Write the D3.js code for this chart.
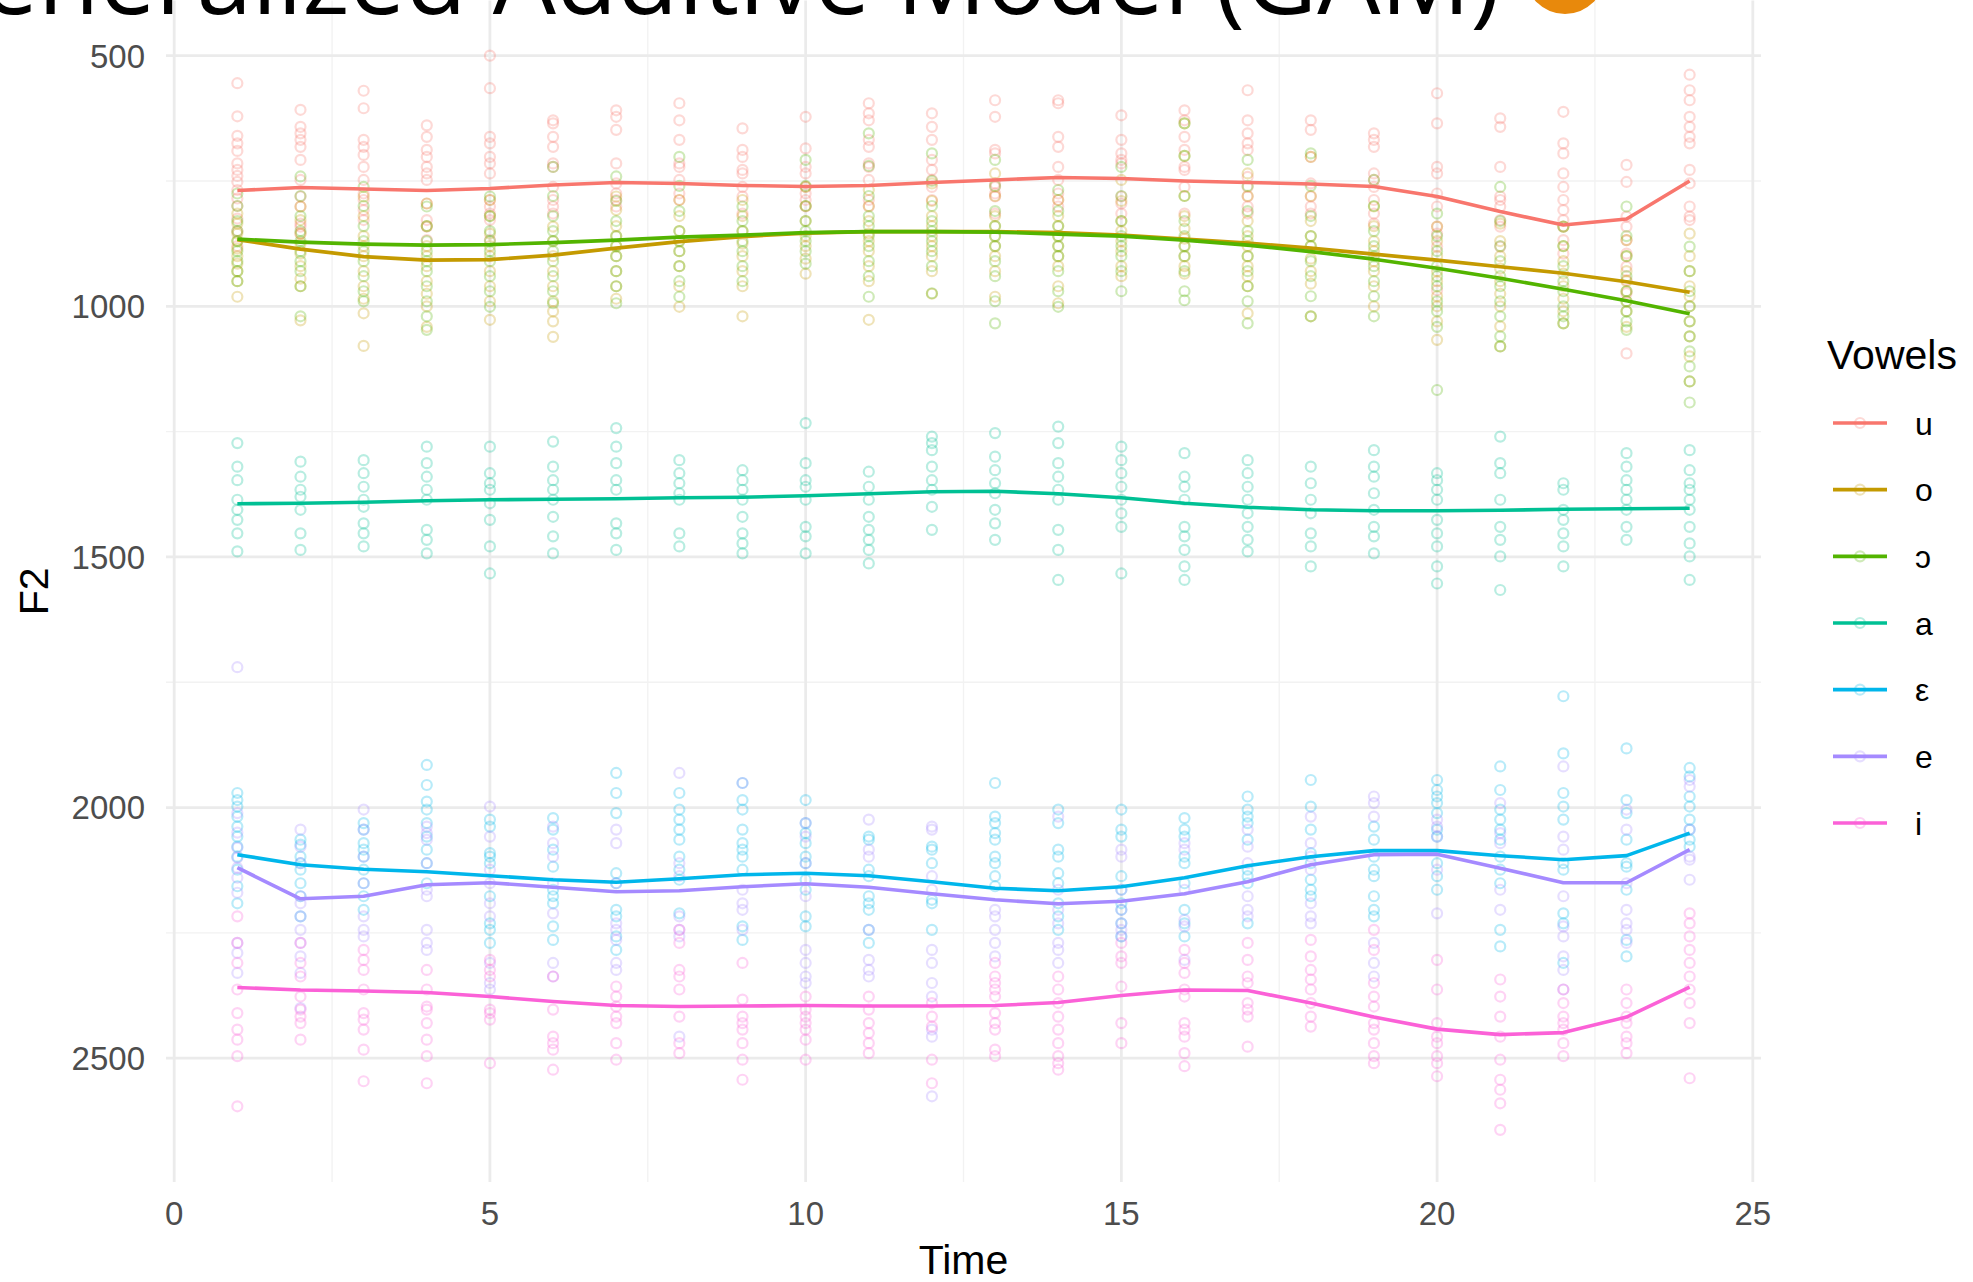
<!DOCTYPE html>
<html>
<head>
<meta charset="utf-8">
<script src="https://cdn.jsdelivr.net/npm/d3@7"></script>
<style>
  html, body { margin: 0; padding: 0; background: #ffffff; overflow: hidden; }
  svg { display: block; }
</style>
</head>
<body>
<svg id="chart" width="1973" height="1282"></svg>
<script>
// Vowel categories and their hue palette
const vowels = ["u", "o", "ɔ", "a", "ε", "e", "i"];
const vowelColors = ["#F8766D", "#C49A00", "#53B400", "#00C094", "#00B6EB", "#A58AFF", "#FB61D7"];

// Measurement time steps
const timeSteps = [1,2,3,4,5,6,7,8,9,10,11,12,13,14,15,16,17,18,19,20,21,22,23,24];

// Axis ticks
const xTicks = [0, 5, 10, 15, 20, 25];
const xMinor = [2.5, 7.5, 12.5, 17.5, 22.5];
const yTicks = [500, 1000, 1500, 2000, 2500];
const yMinor = [750, 1250, 1750, 2250];

// GAM fitted F2 per time step
const fitU    = [769,763,766,769,765,758,753,755,759,761,759,753,748,743,745,750,753,756,761,781,811,838,826,750];
const fitO    = [867,886,901,908,907,898,884,871,861,854,851,851,851,853,858,866,874,884,896,908,921,934,951,972];
const fitOpen = [866,872,876,878,877,873,868,862,858,853,851,851,852,856,860,868,878,891,906,924,944,966,989,1015];
const fitA    = [1394,1393,1391,1388,1386,1385,1384,1382,1381,1378,1374,1370,1369,1374,1382,1393,1401,1406,1408,1408,1407,1405,1404,1403];
const fitEps  = [2094,2114,2123,2128,2136,2144,2149,2142,2134,2131,2136,2148,2161,2166,2158,2140,2116,2098,2086,2086,2096,2104,2096,2051];
const fitE    = [2120,2182,2177,2154,2150,2159,2168,2166,2158,2152,2159,2172,2184,2192,2187,2172,2148,2114,2094,2093,2121,2150,2150,2084];
const fitI    = [2359,2364,2366,2369,2377,2387,2395,2397,2396,2395,2396,2396,2395,2389,2375,2364,2365,2390,2418,2442,2453,2449,2418,2358];

// Raw F2 observations, one list per time step
const obsU = [
  [555,621,660,675,690,715,728,740,752,768,785,800,825,850,880],
  [608,642,655,668,682,708,748,781,801,835,841,855],
  [570,605,668,682,698,722,748,775,788,808,828],
  [639,662,688,702,722,735,748,795,828,841,868],
  [500,565,662,675,702,715,735,788,801,815,828,868],
  [629,635,662,682,715,722,762,788,801,815],
  [609,622,648,715,755,775,788,801],
  [595,629,668,715,722,748,775,788],
  [645,688,702,728,735,762,781,815],
  [622,685,722,735,762,775,788,801],
  [595,615,629,668,682,715,722,748,788,801],
  [615,642,668,708,728,748,762,788],
  [589,622,688,695,755,762,775,781,815],
  [589,595,662,682,722,748,775,788,801],
  [619,668,695,708,715,781,795,815],
  [609,629,662,688,722,728,762,815],
  [569,629,655,675,688,742,762,781,801,815],
  [629,648,702,755,781,801,815],
  [655,668,682,735,748,762,788,815,835],
  [575,635,722,735,775,801,841,855,881,968],
  [625,642,722,781,788,801,828,841,881],
  [612,675,695,735,762,788,808,828,841,868,895],
  [718,752,821,841,868,895,921,948,974,1094],
  [538,569,589,622,642,662,675,728,755,801,821,828]
];
const obsO = [
  [815,835,855,870,885,900,915,930,950,981],
  [801,828,855,875,895,920,945,960,1028],
  [781,820,860,880,900,930,960,985,1014,1079],
  [795,840,880,900,920,950,975,1000,1041],
  [788,820,855,880,900,930,960,990,1027],
  [841,870,900,930,960,990,1010,1030,1061],
  [781,808,840,860,880,900,930,960,985],
  [788,820,850,870,890,920,960,1001],
  [788,820,850,875,900,930,960,1020],
  [762,800,830,860,880,905,935],
  [768,800,830,855,870,890,920,950,1027],
  [755,790,820,840,860,880,900,930,975],
  [735,780,820,840,860,880,900,930,981],
  [788,820,840,860,880,900,920,960,994],
  [748,790,830,850,870,890,920,940],
  [635,700,780,820,845,865,880,900,920,935],
  [735,780,830,860,880,900,920,940,960,1014],
  [702,780,830,860,880,905,930,955,1020],
  [801,840,870,890,910,930,960,1000],
  [841,870,900,930,950,980,1000,1030,1067],
  [835,870,900,925,950,975,1000,1040,1080],
  [841,880,910,935,960,985,1010,1034],
  [868,900,930,950,970,990,1010,1041],
  [855,900,930,960,980,1000,1030,1060,1100,1150]
];
const obsOpen = [
  [775,800,830,850,870,890,910,930,950],
  [741,780,820,850,870,890,910,930,960,1020],
  [762,800,840,870,890,910,940,970,990],
  [801,840,870,890,910,930,960,990,1020,1047],
  [781,820,850,870,890,910,940,970,1001],
  [722,780,820,850,870,890,910,940,970,994],
  [741,790,830,860,880,900,930,960,994],
  [702,760,810,850,870,890,920,950,981],
  [801,830,850,870,890,920,950],
  [708,760,800,830,850,870,890,915],
  [655,720,780,820,840,860,880,910,940,981],
  [695,750,800,830,850,870,890,920,974],
  [708,760,810,840,860,880,910,940,990,1034],
  [768,810,840,860,880,900,930,970,1001],
  [722,780,830,860,880,900,930,970],
  [635,700,780,830,860,880,900,930,970,988],
  [708,760,810,850,870,900,930,960,990,1034],
  [695,760,820,860,880,910,940,980,1020],
  [748,800,850,880,900,920,950,980,1020],
  [815,860,890,920,940,960,990,1010,1041,1167],
  [762,830,880,910,940,960,990,1020,1060,1080],
  [841,880,920,950,970,1000,1020,1034],
  [801,860,900,940,970,990,1010,1030,1047],
  [881,930,970,1000,1030,1060,1090,1120,1150,1192]
];
const obsA = [
  [1273,1320,1347,1386,1406,1426,1453,1489],
  [1310,1340,1366,1380,1406,1453,1486],
  [1307,1333,1360,1386,1400,1433,1453,1479],
  [1280,1313,1340,1366,1386,1446,1466,1493],
  [1280,1333,1353,1366,1393,1426,1479,1533],
  [1270,1320,1347,1366,1386,1420,1459,1493],
  [1243,1280,1313,1347,1366,1433,1453,1486],
  [1307,1333,1353,1373,1386,1453,1479],
  [1327,1347,1366,1386,1420,1453,1473,1493],
  [1233,1313,1347,1360,1386,1440,1459,1493],
  [1330,1360,1386,1420,1446,1466,1486,1513],
  [1260,1273,1287,1320,1347,1366,1400,1446],
  [1253,1300,1327,1353,1373,1406,1433,1466],
  [1240,1273,1313,1340,1366,1386,1446,1486,1546],
  [1280,1307,1333,1360,1386,1413,1440,1533],
  [1293,1340,1360,1386,1440,1459,1486,1519,1546],
  [1307,1333,1360,1386,1413,1440,1466,1489],
  [1320,1353,1386,1413,1453,1479,1519],
  [1287,1320,1340,1373,1406,1440,1459,1493],
  [1333,1347,1366,1386,1426,1453,1479,1519,1553],
  [1260,1313,1333,1386,1440,1466,1499,1566],
  [1353,1366,1406,1426,1453,1479,1519],
  [1293,1320,1347,1366,1386,1406,1440,1466],
  [1287,1327,1353,1366,1386,1406,1440,1473,1499,1546]
];
const obsEps = [
  [1971,1985,1998,2018,2038,2058,2078,2098,2124,2157,2191],
  [2064,2074,2098,2111,2124,2151,2177,2217],
  [2031,2044,2071,2084,2098,2124,2151,2177,2204],
  [1915,1955,1988,2004,2031,2058,2084,2111,2151],
  [2024,2038,2091,2098,2111,2177,2231,2244,2270],
  [2021,2044,2084,2118,2164,2177,2191,2237,2264],
  [1931,1971,2011,2131,2151,2204,2217,2257,2284],
  [1971,2004,2024,2044,2064,2098,2124,2144,2211],
  [1951,1985,2004,2044,2071,2084,2098,2124,2237,2264],
  [1985,2031,2051,2071,2098,2111,2144,2164,2217,2237],
  [2058,2064,2124,2137,2177,2191,2204,2244,2270],
  [2078,2084,2111,2184,2191,2244],
  [1951,2018,2031,2051,2064,2098,2111,2137,2157],
  [2004,2031,2084,2098,2131,2151,2191,2217,2244],
  [2004,2044,2058,2137,2164,2191,2204,2231,2257],
  [2021,2044,2058,2098,2111,2151,2204,2231,2257],
  [1978,2004,2018,2031,2064,2124,2137,2151,2231],
  [1945,1998,2044,2091,2111,2144,2164,2177],
  [2038,2064,2098,2124,2137,2177,2204,2217],
  [1945,1965,1978,1991,2011,2044,2058,2111,2137,2164],
  [1918,1965,2004,2024,2044,2064,2098,2124,2151,2244,2277],
  [1778,1892,1971,1998,2024,2111,2124,2211,2231,2310],
  [1882,1985,2011,2064,2111,2118,2164,2264,2297],
  [1921,1938,1978,1998,2024,2044,2064,2078]
];
const obsE = [
  [1720,2011,2050,2080,2100,2120,2140,2170,2270,2290,2330],
  [2044,2078,2111,2177,2191,2217,2244,2270,2297,2330,2400],
  [2004,2044,2098,2151,2217,2244,2257],
  [2038,2051,2064,2111,2164,2177,2244,2270,2284],
  [1998,2058,2124,2151,2191,2217,2310,2350,2363],
  [2038,2071,2098,2151,2211,2310,2337],
  [2044,2071,2151,2231,2244,2264,2310,2324],
  [1931,2111,2137,2217,2244,2257,2457],
  [1951,2164,2191,2204,2244],
  [2031,2058,2111,2177,2284,2310,2337,2350],
  [2024,2084,2098,2244,2304,2324,2337],
  [2038,2044,2137,2164,2284,2310,2350,2377,2443,2457,2576],
  [2204,2217,2244,2270,2297],
  [2018,2164,2204,2231,2270,2284,2310],
  [2084,2098,2164,2204,2231,2244,2257],
  [2071,2084,2164,2224,2237,2304],
  [2044,2078,2111,2177,2204,2217],
  [2018,2071,2098,2124,2191,2217,2231],
  [1978,1991,2018,2270,2310,2337],
  [2024,2038,2058,2124,2211],
  [1991,2051,2071,2164,2204],
  [1918,2058,2084,2177,2237,2257,2297,2324,2363],
  [2004,2044,2151,2204,2231,2244,2270],
  [1945,1958,2044,2098,2104,2144]
];
const obsI = [
  [2217,2270,2310,2363,2410,2443,2463,2496,2596],
  [2270,2310,2337,2377,2403,2417,2430,2463],
  [2284,2304,2324,2363,2410,2423,2443,2483,2546],
  [2324,2363,2397,2403,2430,2463,2496,2550],
  [2304,2324,2337,2403,2410,2423,2510],
  [2337,2403,2457,2470,2483,2523],
  [2357,2377,2397,2417,2430,2470,2503],
  [2244,2270,2324,2337,2363,2417,2470,2490],
  [2310,2383,2417,2430,2443,2470,2503,2543],
  [2377,2403,2417,2430,2443,2463,2503],
  [2377,2403,2430,2450,2470,2490],
  [2390,2417,2437,2503,2550],
  [2310,2337,2350,2363,2377,2410,2430,2443,2483,2496],
  [2337,2363,2390,2417,2443,2470,2496,2510,2523],
  [2270,2297,2310,2357,2430,2470],
  [2284,2310,2330,2363,2377,2430,2443,2457,2490,2516],
  [2270,2304,2337,2350,2390,2403,2417,2477],
  [2264,2297,2324,2343,2363,2390,2417,2437],
  [2244,2284,2350,2377,2397,2430,2443,2470,2496,2510],
  [2304,2363,2430,2457,2470,2496,2510,2536],
  [2343,2377,2417,2457,2503,2543,2563,2590,2643],
  [2363,2390,2417,2430,2443,2470,2496],
  [2363,2390,2417,2430,2457,2470,2490],
  [2211,2231,2257,2284,2310,2337,2363,2390,2430,2540]
];

const fits = [fitU, fitO, fitOpen, fitA, fitEps, fitE, fitI];
const observations = [obsU, obsO, obsOpen, obsA, obsEps, obsE, obsI];

// ---- layout ----
const svg = d3.select("#chart");
const W = 1973, H = 1282;
const panel = { left: 166, right: 1761, top: 0.5, bottom: 1182 };

const x = d3.scaleLinear().domain([-0.13, 25.13]).range([panel.left, panel.right]);
// F2 drawn with low values at the top
const y = d3.scaleLinear().domain([390, 2747]).range([panel.top, panel.bottom]);
const color = d3.scaleOrdinal().domain(vowels).range(vowelColors);

svg.append("rect").attr("width", W).attr("height", H).attr("fill", "#ffffff");

// ---- grid ----
const grid = svg.append("g");
grid.selectAll(".ymin").data(yMinor).join("line")
  .attr("x1", panel.left).attr("x2", panel.right)
  .attr("y1", d => y(d)).attr("y2", d => y(d))
  .attr("stroke", "#F2F2F2").attr("stroke-width", 1.4);
grid.selectAll(".xmin").data(xMinor).join("line")
  .attr("y1", panel.top).attr("y2", panel.bottom)
  .attr("x1", d => x(d)).attr("x2", d => x(d))
  .attr("stroke", "#F2F2F2").attr("stroke-width", 1.4);
grid.selectAll(".ymaj").data(yTicks).join("line")
  .attr("x1", panel.left).attr("x2", panel.right)
  .attr("y1", d => y(d)).attr("y2", d => y(d))
  .attr("stroke", "#EBEBEB").attr("stroke-width", 2.8);
grid.selectAll(".xmaj").data(xTicks).join("line")
  .attr("y1", panel.top).attr("y2", panel.bottom)
  .attr("x1", d => x(d)).attr("x2", d => x(d))
  .attr("stroke", "#EBEBEB").attr("stroke-width", 2.8);

// ---- raw observations ----
const pointRows = [];
vowels.forEach((v, vi) => {
  observations[vi].forEach((vals, ti) => {
    vals.forEach(val => pointRows.push({ vowel: v, time: timeSteps[ti], f2: val }));
  });
});
svg.append("g").selectAll("circle").data(pointRows).join("circle")
  .attr("cx", d => x(d.time)).attr("cy", d => y(d.f2))
  .attr("r", 5)
  .attr("fill", "none")
  .attr("stroke", d => color(d.vowel))
  .attr("stroke-width", 2.2)
  .attr("stroke-opacity", 0.28);

// ---- fitted curves ----
const line = d3.line().x(d => x(d.time)).y(d => y(d.f2)).curve(d3.curveLinear);
const fitSeries = vowels.map((v, vi) => ({
  vowel: v,
  values: timeSteps.map((t, ti) => ({ time: t, f2: fits[vi][ti] }))
}));
svg.append("g").selectAll("path").data(fitSeries).join("path")
  .attr("d", d => line(d.values))
  .attr("fill", "none")
  .attr("stroke", d => color(d.vowel))
  .attr("stroke-width", 3.6)
  .attr("stroke-linejoin", "round");

// ---- axes text ----
const axisFont = "'Liberation Sans', Arial, sans-serif";
svg.append("g").selectAll("text").data(yTicks).join("text")
  .attr("x", 145).attr("y", d => y(d))
  .attr("dy", "0.36em")
  .attr("text-anchor", "end")
  .attr("font-family", axisFont).attr("font-size", 33)
  .attr("fill", "#4D4D4D")
  .text(d => d);
svg.append("g").selectAll("text").data(xTicks).join("text")
  .attr("x", d => x(d)).attr("y", 1213)
  .attr("dy", "0.36em")
  .attr("text-anchor", "middle")
  .attr("font-family", axisFont).attr("font-size", 33)
  .attr("fill", "#4D4D4D")
  .text(d => d);

svg.append("text")
  .attr("x", (panel.left + panel.right) / 2).attr("y", 1259)
  .attr("dy", "0.36em").attr("text-anchor", "middle")
  .attr("font-family", axisFont).attr("font-size", 41).attr("fill", "#000")
  .text("Time");
svg.append("text")
  .attr("transform", `translate(33,${(panel.top + panel.bottom) / 2}) rotate(-90)`)
  .attr("dy", "0.36em").attr("text-anchor", "middle")
  .attr("font-family", axisFont).attr("font-size", 41).attr("fill", "#000")
  .text("F2");

// ---- legend ----
const legend = svg.append("g");
legend.append("text")
  .attr("x", 1827).attr("y", 354).attr("dy", "0.36em")
  .attr("font-family", axisFont).attr("font-size", 41).attr("fill", "#000")
  .text("Vowels");
const keyY = d3.scalePoint().domain(vowels).range([423, 823]);
const keys = legend.selectAll(".key").data(vowels).join("g")
  .attr("transform", d => `translate(0,${keyY(d)})`);
keys.append("line")
  .attr("x1", 1833).attr("x2", 1887)
  .attr("stroke", d => color(d)).attr("stroke-width", 3.6);
keys.append("circle")
  .attr("cx", 1860).attr("r", 5)
  .attr("fill", "none").attr("stroke", d => color(d))
  .attr("stroke-width", 2.2).attr("stroke-opacity", 0.28);
keys.append("text")
  .attr("x", 1915).attr("dy", "0.36em")
  .attr("font-family", axisFont).attr("font-size", 32).attr("fill", "#000")
  .text(d => d);

// ---- slide heading (runs off the top edge) ----
svg.append("text")
  .attr("x", 1500).attr("y", 14)
  .attr("text-anchor", "end")
  .attr("font-family", "'Open Sans', sans-serif").attr("font-size", 100)
  .attr("fill", "#000")
  .text("Generalized Additive Model (GAM)");
svg.append("circle")
  .attr("cx", 1565).attr("cy", -26).attr("r", 40)
  .attr("fill", "#E8890C");
</script>
</body>
</html>
